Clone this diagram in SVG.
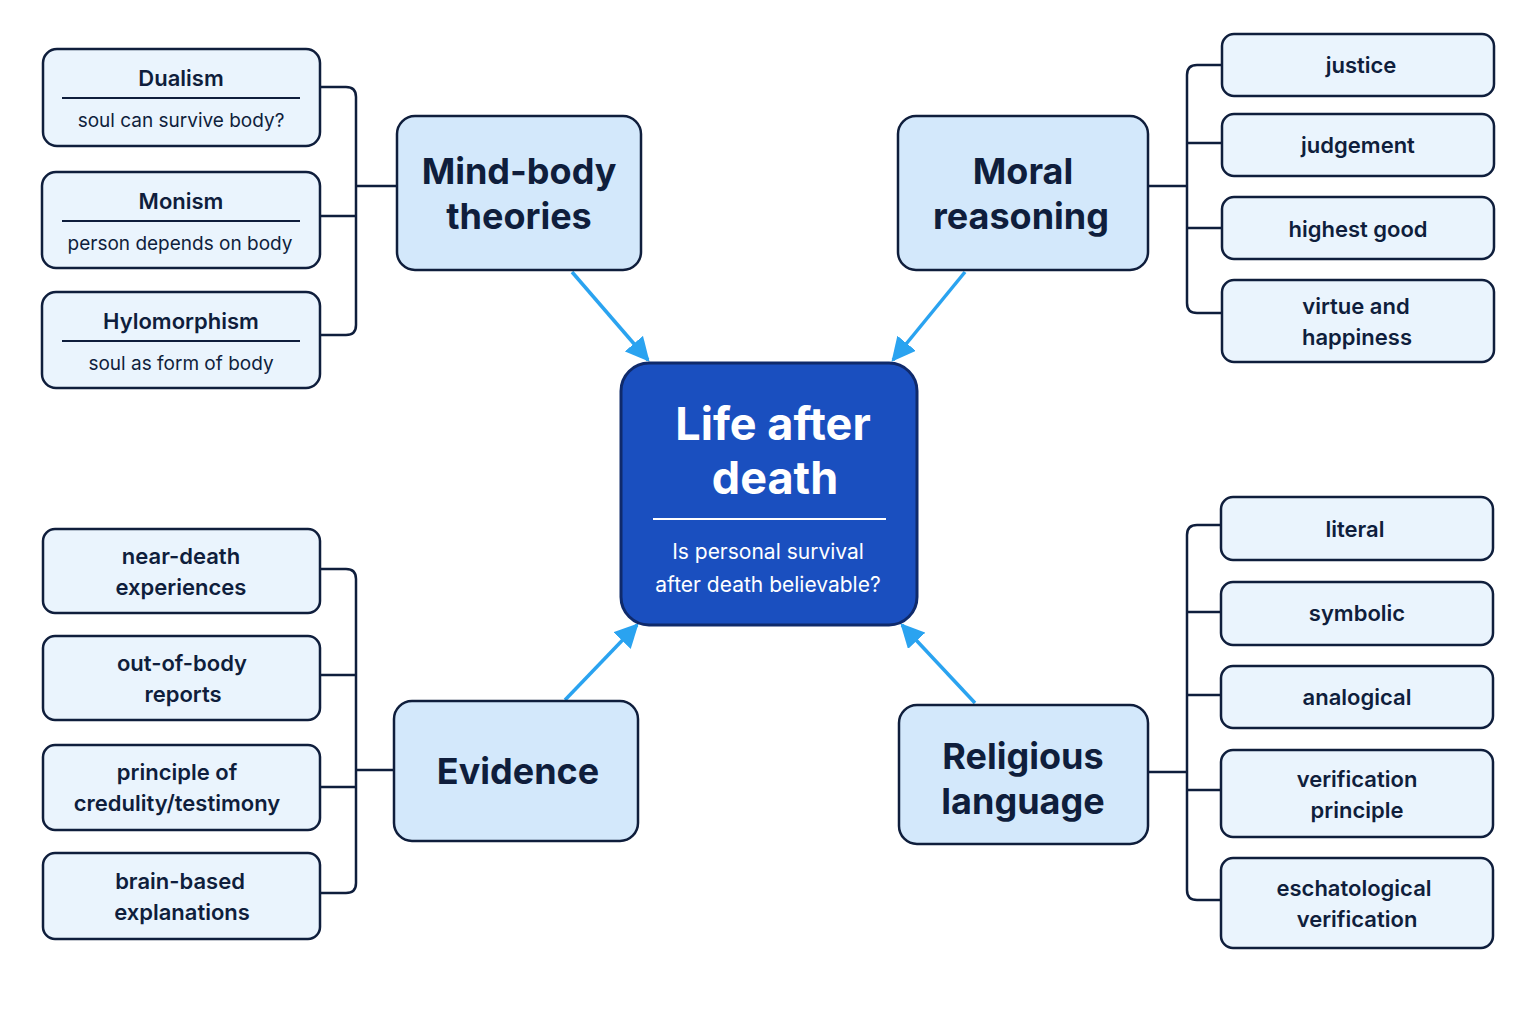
<svg xmlns="http://www.w3.org/2000/svg" width="1536" height="1024" viewBox="0 0 1536 1024">
<style>
.leaf{fill:#eaf4fd;stroke:#0f1e3c;stroke-width:2.5}
.cat{fill:#d3e8fb;stroke:#0f1e3c;stroke-width:2.5}
.t{font-family:Inter,"Noto Sans",sans-serif;fill:#0f1e3c;text-anchor:middle}
.lt{font-size:22px;font-weight:600}
.st{font-size:19px;font-weight:400}
.ct{font-size:36px;font-weight:700}
.br{fill:none;stroke:#0f1e3c;stroke-width:2.5}
.ar{stroke:#2aa3f0;stroke-width:3.5;marker-end:url(#ah2)}
</style>
<defs>
<marker id="ah2" viewBox="0 0 10 10" refX="9" refY="5" markerWidth="24" markerHeight="24" markerUnits="userSpaceOnUse" orient="auto"><path d="M0,0L10,5L0,10z" fill="#2aa3f0"/></marker></defs>
<rect width="1536" height="1024" fill="#fff"/>
<g id="connectors">
<path class="br" d="M320,87H346Q356,87 356,97V325Q356,335 346,335H320M320,216H356M356,186H397"/>
<path class="br" d="M320,569H346Q356,569 356,579V883Q356,893 346,893H320M320,675H356M320,787H356M356,770H394"/>
<path class="br" d="M1222,65H1197Q1187,65 1187,75V303Q1187,313 1197,313H1222M1222,143H1187M1222,228H1187M1148,186H1187"/>
<path class="br" d="M1222,525H1197Q1187,525 1187,535V890Q1187,900 1197,900H1222M1222,612H1187M1222,695H1187M1222,790H1187M1148,772H1187"/>
<line class="ar" x1="572" y1="272" x2="648" y2="360"/>
<line class="ar" x1="965" y1="272" x2="893" y2="360"/>
<line class="ar" x1="565" y1="700" x2="637" y2="625"/>
<line class="ar" x1="975" y1="703" x2="902" y2="625"/>
</g>
<g id="center"><rect x="621" y="363" width="296" height="262" rx="28" fill="#1a4fbf" stroke="#0f2a6b" stroke-width="3"/>
<text class="t" x="773" y="440" font-size="45" font-weight="700" style="fill:#fff">Life after</text>
<text class="t" x="775" y="494" font-size="45" font-weight="700" style="fill:#fff">death</text>
<line x1="653" y1="519" x2="886" y2="519" stroke="#fff" stroke-width="2"/>
<text class="t" x="768" y="559" font-size="21" style="fill:#fff">Is personal survival</text>
<text class="t" x="768" y="592" font-size="21" style="fill:#fff">after death believable?</text></g>
<g id="mindbody"><rect class="cat" x="397" y="116" width="244" height="154" rx="18"/><text class="t ct" x="519" y="184">Mind-body</text><text class="t ct" x="519" y="229">theories</text></g>
<g id="moral"><rect class="cat" x="898" y="116" width="250" height="154" rx="18"/><text class="t ct" x="1023" y="184">Moral</text><text class="t ct" x="1021" y="229">reasoning</text></g>
<g id="evidence"><rect class="cat" x="394" y="701" width="244" height="140" rx="18"/><text class="t ct" x="518" y="784">Evidence</text></g>
<g id="religious"><rect class="cat" x="899" y="705" width="249" height="139" rx="18"/><text class="t ct" x="1023" y="769">Religious</text><text class="t ct" x="1023" y="814">language</text></g>
<g id="dualism"><rect class="leaf" x="43" y="49" width="277" height="97" rx="14"/><text class="t lt" x="181" y="86">Dualism</text><line x1="62" y1="98" x2="300" y2="98" stroke="#0f1e3c" stroke-width="2"/><text class="t st" x="181" y="127">soul can survive body?</text></g>
<g id="monism"><rect class="leaf" x="42" y="172" width="278" height="96" rx="14"/><text class="t lt" x="181" y="209">Monism</text><line x1="62" y1="221" x2="300" y2="221" stroke="#0f1e3c" stroke-width="2"/><text class="t st" x="180" y="250">person depends on body</text></g>
<g id="hylo"><rect class="leaf" x="42" y="292" width="278" height="96" rx="14"/><text class="t lt" x="181" y="329">Hylomorphism</text><line x1="62" y1="341" x2="300" y2="341" stroke="#0f1e3c" stroke-width="2"/><text class="t st" x="181" y="370">soul as form of body</text></g>
<g id="nde"><rect class="leaf" x="43" y="529" width="277" height="84" rx="12"/><text class="t lt" x="181" y="564">near-death</text><text class="t lt" x="181" y="595">experiences</text></g>
<g id="obe"><rect class="leaf" x="43" y="636" width="277" height="84" rx="12"/><text class="t lt" x="182" y="671">out-of-body</text><text class="t lt" x="183" y="702">reports</text></g>
<g id="credulity"><rect class="leaf" x="43" y="745" width="277" height="85" rx="12"/><text class="t lt" x="177" y="780">principle of</text><text class="t lt" x="177" y="811">credulity/testimony</text></g>
<g id="brain"><rect class="leaf" x="43" y="853" width="277" height="86" rx="12"/><text class="t lt" x="180" y="889">brain-based</text><text class="t lt" x="182" y="920">explanations</text></g>
<g id="justice"><rect class="leaf" x="1222" y="34" width="272" height="62" rx="12"/><text class="t lt" x="1361" y="73">justice</text></g>
<g id="judgement"><rect class="leaf" x="1222" y="114" width="272" height="62" rx="12"/><text class="t lt" x="1358" y="153">judgement</text></g>
<g id="highest"><rect class="leaf" x="1222" y="197" width="272" height="62" rx="12"/><text class="t lt" x="1358" y="237">highest good</text></g>
<g id="virtue"><rect class="leaf" x="1222" y="280" width="272" height="82" rx="12"/><text class="t lt" x="1356" y="314">virtue and</text><text class="t lt" x="1357" y="345">happiness</text></g>
<g id="literal"><rect class="leaf" x="1221" y="497" width="272" height="63" rx="12"/><text class="t lt" x="1355" y="537">literal</text></g>
<g id="symbolic"><rect class="leaf" x="1221" y="582" width="272" height="63" rx="12"/><text class="t lt" x="1357" y="621">symbolic</text></g>
<g id="analogical"><rect class="leaf" x="1221" y="666" width="272" height="62" rx="12"/><text class="t lt" x="1357" y="705">analogical</text></g>
<g id="verification"><rect class="leaf" x="1221" y="750" width="272" height="87" rx="12"/><text class="t lt" x="1357" y="787">verification</text><text class="t lt" x="1357" y="818">principle</text></g>
<g id="eschat"><rect class="leaf" x="1221" y="858" width="272" height="90" rx="12"/><text class="t lt" x="1354" y="896">eschatological</text><text class="t lt" x="1357" y="927">verification</text></g>
</svg>
